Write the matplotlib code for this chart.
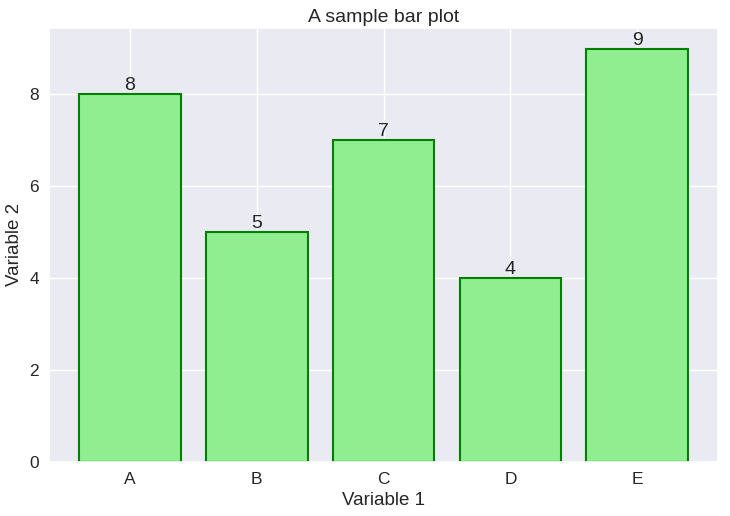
import matplotlib
matplotlib.use("Agg")
import matplotlib.pyplot as plt
import seaborn as sns

categories = ["A", "B", "C", "D", "E"]
values = [8, 5, 7, 4, 9]

sns.set_theme(style="darkgrid")
plt.rcParams["font.family"] = ["Liberation Sans", "DejaVu Sans"]

fig = plt.figure(figsize=(7.3, 5.16), dpi=100)
ax = fig.add_axes([0.067, 0.105, 0.917, 0.841])

bars = ax.bar(categories, values, color="lightgreen", edgecolor="green", linewidth=1.5)
for rect, v in zip(bars, values):
    ax.text(rect.get_x() + rect.get_width() / 2, rect.get_height(), str(v),
            ha="center", va="bottom", fontsize=14, color=".15")

ax.set_title("A sample bar plot", fontsize=14, color=".15", pad=4.5)
ax.set_xlabel("Variable 1", fontsize=13.5, color=".15", labelpad=4)
ax.set_ylabel("Variable 2", fontsize=13.5, color=".15", labelpad=5)
ax.tick_params(labelsize=12.5, colors=".15", length=0, pad=7)

fig.savefig("out.png", dpi=100)
